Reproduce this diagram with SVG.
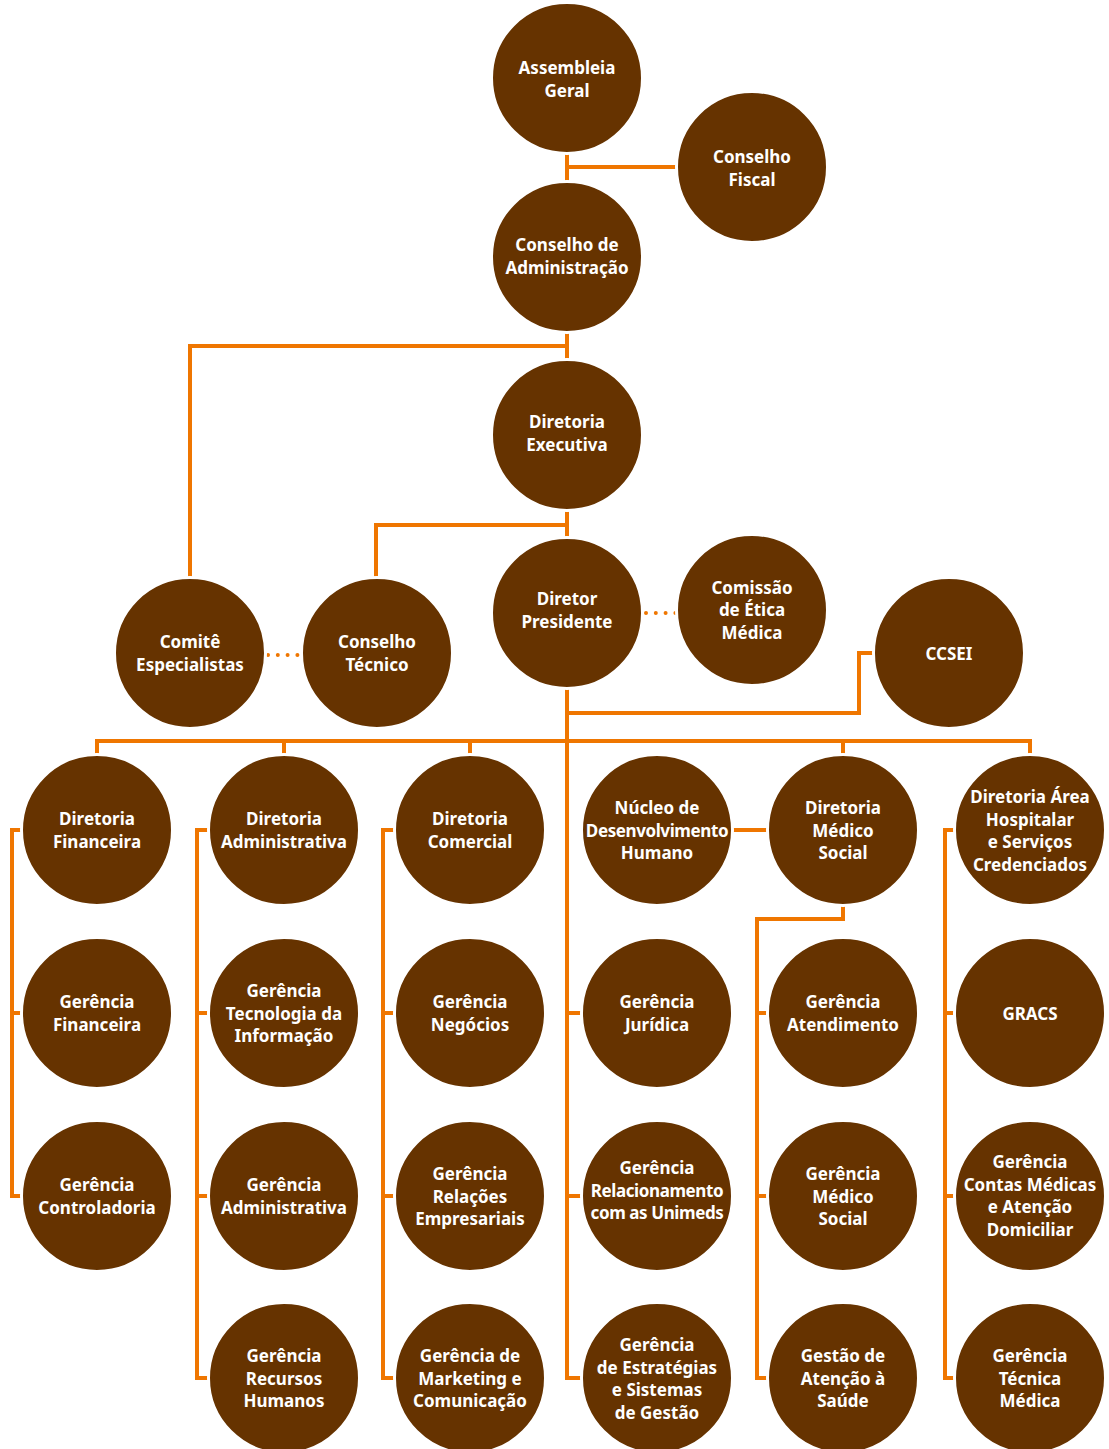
<svg xmlns="http://www.w3.org/2000/svg" width="1109" height="1449" viewBox="0 0 1109 1449">
<style>
.c{fill:#663300;stroke:#ffffff;stroke-width:3}
.t{fill:#ffffff;font-family:"Noto Sans","Liberation Sans",sans-serif;font-weight:700;font-size:17px;text-anchor:middle}
.n{letter-spacing:-0.4px}
.l{fill:none;stroke:#EF7600;stroke-width:4;stroke-linejoin:miter;stroke-linecap:butt}
.d{fill:none;stroke:#EF7600;stroke-width:4;stroke-linecap:round;stroke-dasharray:0 9.8}
</style>
<rect width="1109" height="1449" fill="#ffffff"/>
<g id="connectors">
<path class="l" d="M567,78 V435"/>
<path class="l" d="M567,167 H752"/>
<path class="l" d="M567,346 H190 V653"/>
<path class="l" d="M567,435 V613"/>
<path class="l" d="M567,525 H376 V653"/>
<path class="l" d="M567,613 V1378 H657"/>
<path class="l" d="M567,1013 H657 M567,1196 H657"/>
<path class="l" d="M567,713 H859 V653 H949"/>
<path class="l" d="M97,830 V741 H1030 V830 M284,741 V830 M470,741 V830 M843,741 V830"/>
<path class="l" d="M97,830 H12 V1196 H97 M12,1013 H97"/>
<path class="l" d="M284,830 H197 V1378 H284 M197,1013 H284 M197,1196 H284"/>
<path class="l" d="M470,830 H383 V1378 H470 M383,1013 H470 M383,1196 H470"/>
<path class="l" d="M657,830 H843"/>
<path class="l" d="M843,830 V919 H757 V1378 H843 M757,1013 H843 M757,1196 H843"/>
<path class="l" d="M1030,830 H945 V1378 H1030 M945,1013 H1030 M945,1196 H1030"/>
<path class="d" d="M268,655 H298"/>
<path class="d" d="M646,613 H676"/>
</g>
<g id="assembleia-geral"><circle class="c" cx="567" cy="78" r="75.5"/><text class="t"><tspan x="567" y="74">Assembleia</tspan><tspan x="567" y="96.5">Geral</tspan></text></g>
<g id="conselho-fiscal"><circle class="c" cx="752" cy="167" r="75.5"/><text class="t"><tspan x="752" y="163">Conselho</tspan><tspan x="752" y="185.5">Fiscal</tspan></text></g>
<g id="conselho-administracao"><circle class="c" cx="567" cy="257" r="75.5"/><text class="t"><tspan x="567" y="251">Conselho de</tspan><tspan x="567" y="273.5">Administração</tspan></text></g>
<g id="diretoria-executiva"><circle class="c" cx="567" cy="435" r="75.5"/><text class="t"><tspan x="567" y="428">Diretoria</tspan><tspan x="567" y="450.5">Executiva</tspan></text></g>
<g id="diretor-presidente"><circle class="c" cx="567" cy="613" r="75.5"/><text class="t"><tspan x="567" y="605">Diretor</tspan><tspan x="567" y="627.5">Presidente</tspan></text></g>
<g id="comissao-etica"><circle class="c" cx="752" cy="610" r="75.5"/><text class="t"><tspan x="752" y="593.5">Comissão</tspan><tspan x="752" y="616">de Ética</tspan><tspan x="752" y="638.5">Médica</tspan></text></g>
<g id="comite-especialistas"><circle class="c" cx="190" cy="653" r="75.5"/><text class="t"><tspan x="190" y="648">Comitê</tspan><tspan x="190" y="670.5">Especialistas</tspan></text></g>
<g id="conselho-tecnico"><circle class="c" cx="377" cy="653" r="75.5"/><text class="t"><tspan x="377" y="648">Conselho</tspan><tspan x="377" y="670.5">Técnico</tspan></text></g>
<g id="ccsei"><circle class="c" cx="949" cy="653" r="75.5"/><text class="t"><tspan x="949" y="659.5">CCSEI</tspan></text></g>
<g id="diretoria-financeira"><circle class="c" cx="97" cy="830" r="75.5"/><text class="t"><tspan x="97" y="825">Diretoria</tspan><tspan x="97" y="847.5">Financeira</tspan></text></g>
<g id="diretoria-administrativa"><circle class="c" cx="284" cy="830" r="75.5"/><text class="t"><tspan x="284" y="825">Diretoria</tspan><tspan x="284" y="847.5">Administrativa</tspan></text></g>
<g id="diretoria-comercial"><circle class="c" cx="470" cy="830" r="75.5"/><text class="t"><tspan x="470" y="825">Diretoria</tspan><tspan x="470" y="847.5">Comercial</tspan></text></g>
<g id="nucleo-desenvolvimento-humano"><circle class="c" cx="657" cy="830" r="75.5"/><text class="t"><tspan x="657" y="814">Núcleo de</tspan><tspan class="n" x="657" y="836.5">Desenvolvimento</tspan><tspan x="657" y="859">Humano</tspan></text></g>
<g id="diretoria-medico-social"><circle class="c" cx="843" cy="830" r="75.5"/><text class="t"><tspan x="843" y="814">Diretoria</tspan><tspan x="843" y="836.5">Médico</tspan><tspan x="843" y="859">Social</tspan></text></g>
<g id="diretoria-area-hospitalar"><circle class="c" cx="1030" cy="830" r="75.5"/><text class="t"><tspan x="1030" y="803">Diretoria Área</tspan><tspan x="1030" y="825.5">Hospitalar</tspan><tspan x="1030" y="848">e Serviços</tspan><tspan x="1030" y="870.5">Credenciados</tspan></text></g>
<g id="gerencia-financeira"><circle class="c" cx="97" cy="1013" r="75.5"/><text class="t"><tspan x="97" y="1008">Gerência</tspan><tspan x="97" y="1030.5">Financeira</tspan></text></g>
<g id="gerencia-ti"><circle class="c" cx="284" cy="1013" r="75.5"/><text class="t"><tspan x="284" y="997">Gerência</tspan><tspan x="284" y="1019.5">Tecnologia da</tspan><tspan x="284" y="1042">Informação</tspan></text></g>
<g id="gerencia-negocios"><circle class="c" cx="470" cy="1013" r="75.5"/><text class="t"><tspan x="470" y="1008">Gerência</tspan><tspan x="470" y="1030.5">Negócios</tspan></text></g>
<g id="gerencia-juridica"><circle class="c" cx="657" cy="1013" r="75.5"/><text class="t"><tspan x="657" y="1008">Gerência</tspan><tspan x="657" y="1030.5">Jurídica</tspan></text></g>
<g id="gerencia-atendimento"><circle class="c" cx="843" cy="1013" r="75.5"/><text class="t"><tspan x="843" y="1008">Gerência</tspan><tspan x="843" y="1030.5">Atendimento</tspan></text></g>
<g id="gracs"><circle class="c" cx="1030" cy="1013" r="75.5"/><text class="t"><tspan x="1030" y="1019.5">GRACS</tspan></text></g>
<g id="gerencia-controladoria"><circle class="c" cx="97" cy="1196" r="75.5"/><text class="t"><tspan x="97" y="1191">Gerência</tspan><tspan x="97" y="1213.5">Controladoria</tspan></text></g>
<g id="gerencia-administrativa"><circle class="c" cx="284" cy="1196" r="75.5"/><text class="t"><tspan x="284" y="1191">Gerência</tspan><tspan x="284" y="1213.5">Administrativa</tspan></text></g>
<g id="gerencia-relacoes-empresariais"><circle class="c" cx="470" cy="1196" r="75.5"/><text class="t"><tspan x="470" y="1180">Gerência</tspan><tspan x="470" y="1202.5">Relações</tspan><tspan x="470" y="1225">Empresariais</tspan></text></g>
<g id="gerencia-relacionamento-unimeds"><circle class="c" cx="657" cy="1196" r="75.5"/><text class="t"><tspan x="657" y="1174">Gerência</tspan><tspan class="n" x="657" y="1196.5">Relacionamento</tspan><tspan class="n" x="657" y="1219">com as Unimeds</tspan></text></g>
<g id="gerencia-medico-social"><circle class="c" cx="843" cy="1196" r="75.5"/><text class="t"><tspan x="843" y="1180">Gerência</tspan><tspan x="843" y="1202.5">Médico</tspan><tspan x="843" y="1225">Social</tspan></text></g>
<g id="gerencia-contas-medicas"><circle class="c" cx="1030" cy="1196" r="75.5"/><text class="t"><tspan x="1030" y="1168">Gerência</tspan><tspan x="1030" y="1190.5">Contas Médicas</tspan><tspan x="1030" y="1213">e Atenção</tspan><tspan x="1030" y="1235.5">Domiciliar</tspan></text></g>
<g id="gerencia-recursos-humanos"><circle class="c" cx="284" cy="1378" r="75.5"/><text class="t"><tspan x="284" y="1362">Gerência</tspan><tspan x="284" y="1384.5">Recursos</tspan><tspan x="284" y="1407">Humanos</tspan></text></g>
<g id="gerencia-marketing"><circle class="c" cx="470" cy="1378" r="75.5"/><text class="t"><tspan x="470" y="1362">Gerência de</tspan><tspan x="470" y="1384.5">Marketing e</tspan><tspan x="470" y="1407">Comunicação</tspan></text></g>
<g id="gerencia-estrategias"><circle class="c" cx="657" cy="1378" r="75.5"/><text class="t"><tspan x="657" y="1351">Gerência</tspan><tspan x="657" y="1373.5">de Estratégias</tspan><tspan x="657" y="1396">e Sistemas</tspan><tspan x="657" y="1418.5">de Gestão</tspan></text></g>
<g id="gestao-atencao-saude"><circle class="c" cx="843" cy="1378" r="75.5"/><text class="t"><tspan x="843" y="1362">Gestão de</tspan><tspan x="843" y="1384.5">Atenção à</tspan><tspan x="843" y="1407">Saúde</tspan></text></g>
<g id="gerencia-tecnica-medica"><circle class="c" cx="1030" cy="1378" r="75.5"/><text class="t"><tspan x="1030" y="1362">Gerência</tspan><tspan x="1030" y="1384.5">Técnica</tspan><tspan x="1030" y="1407">Médica</tspan></text></g>
</svg>
